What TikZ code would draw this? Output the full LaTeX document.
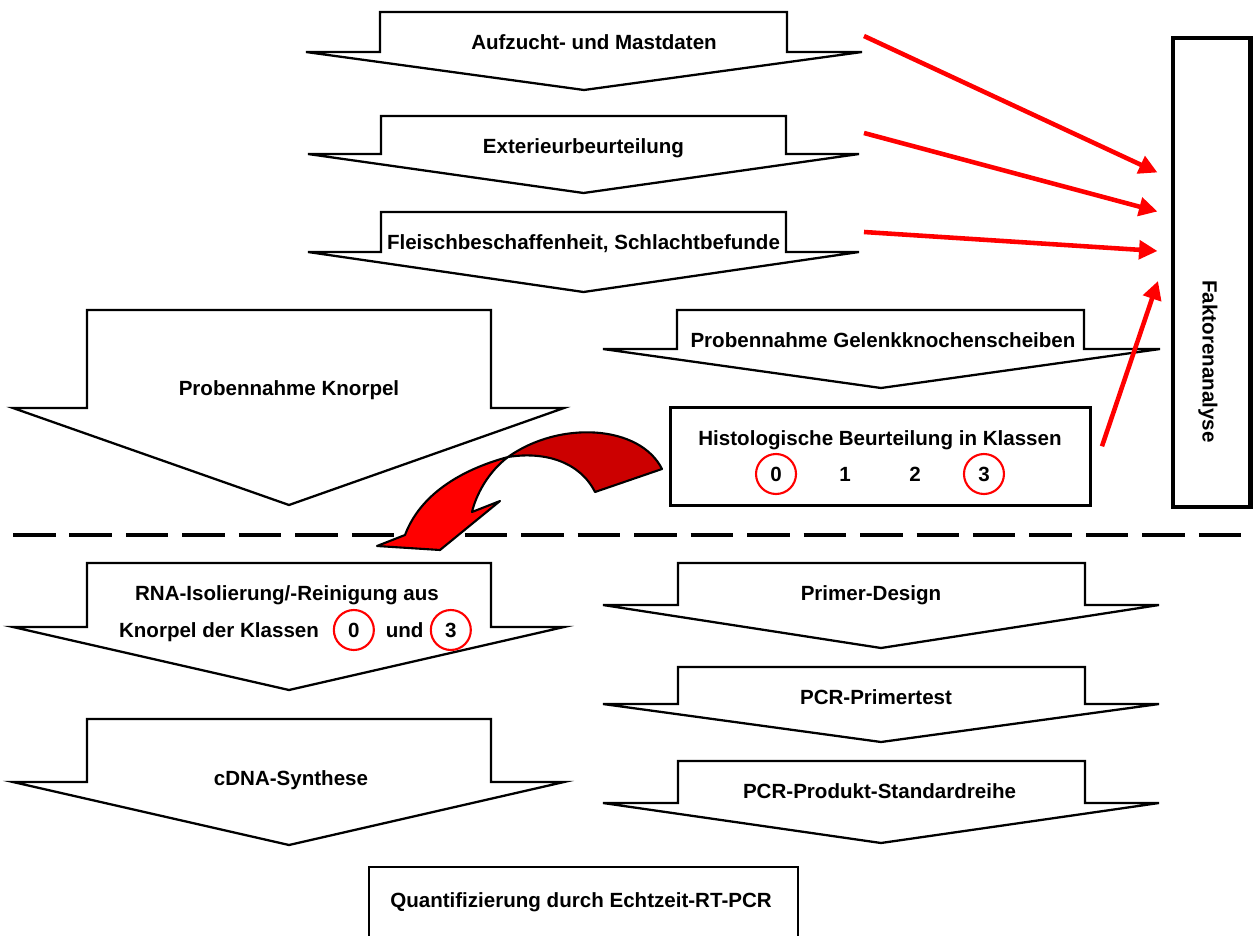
\documentclass[tikz,border=0pt]{standalone}
\usepackage{fontspec}
\setmainfont{Liberation Sans}
\usepackage{graphicx}
\usetikzlibrary{positioning, arrows.meta}
\definecolor{arrdark}{RGB}{204,0,0}
\tikzset{
	blk/.style={draw, line width=1.3pt, fill=white},
	lbl/.style={font=\bfseries\fontsize{11.7}{14}\selectfont, inner sep=0pt, text height=8.4pt, text depth=0pt},
	ring/.style={lbl, draw=red, line width=1.2pt, circle, minimum size=0.8cm},
	frame/.style={draw, line width=1.7pt},
	redarr/.style={red, line width=2.6pt, -{Triangle[length=10.5pt, width=10.5pt]}},
	curl/.style={draw=black, line width=1.2pt, line join=round},
}

\begin{document}
\begin{tikzpicture}[x=0.02cm, y=-0.02cm]
		\useasboundingbox (0,0) rectangle (1254,936);
		\clip (0,0) rectangle (1254,936);

		\draw[blk] (380,12) -- (787,12) -- (787,52) -- (862,52) -- (584,90) -- (306,52) -- (380,52) -- cycle;
		\draw[blk] (381,116) -- (786,116) -- (786,154) -- (859,154) -- (583.5,193) -- (308,154) -- (381,154) -- cycle;
		\draw[blk] (381,212) -- (786,212) -- (786,252) -- (859,252) -- (583.5,292) -- (308,252) -- (381,252) -- cycle;
		\draw[blk] (87,310) -- (491,310) -- (491,408) -- (564,408) -- (289,505) -- (13,408) -- (87,408) -- cycle;
		\draw[blk] (677,310) -- (1084,310) -- (1084,349) -- (1160,349) -- (881,388) -- (603,349) -- (677,349) -- cycle;
		\draw[blk] (87,563) -- (491,563) -- (491,627) -- (564,627) -- (289,690) -- (13,627) -- (87,627) -- cycle;
		\draw[blk] (87,719) -- (491,719) -- (491,782) -- (564,782) -- (289,845) -- (13,782) -- (87,782) -- cycle;
		\draw[blk] (678,563) -- (1085,563) -- (1085,605) -- (1159,605) -- (881,648) -- (603,605) -- (678,605) -- cycle;
		\draw[blk] (678,667) -- (1085,667) -- (1085,704) -- (1159,704) -- (881,742) -- (603,704) -- (678,704) -- cycle;
		\draw[blk] (678,761) -- (1085,761) -- (1085,803) -- (1159,803) -- (881,843) -- (603,803) -- (678,803) -- cycle;

		\node[frame, line width=2.3pt, minimum width=1.56cm, minimum height=9.38cm] (fa) at (1211.5,272.5) {};
		\node[frame, minimum width=8.4cm, minimum height=1.97cm] (histo) at (880.5,456.3) {};
		\node[frame, line width=1.5pt, minimum width=8.58cm, minimum height=2.26cm] (quant) at (583.5,923.5) {};

		\node[lbl] (aufzucht) at (594,42) {Aufzucht- und Mastdaten};
		\node[lbl] (exterieur) at (583.5,146) {Exterieurbeurteilung};
		\node[lbl] (fleisch) at (583.5,242) {Fleischbeschaffenheit, Schlachtbefunde};
		\node[lbl] (knorpel) at (289,388) {Probennahme Knorpel};
		\node[lbl] (gelenk) at (883,340) {Probennahme Gelenkknochenscheiben};
		\node[lbl] (histotxt) at (880,438) {Histologische Beurteilung in Klassen};
		\node[lbl] (h1) at (845,474) {1};
		\node[ring, left of=h1, node distance=1.38cm] (h0) {0};
		\node[lbl, right of=h1, node distance=1.4cm] (h2) {2};
		\node[ring, right of=h2, node distance=1.38cm] (h3) {3};
		\node[lbl] (fatxt) at (1208,273) {\rotatebox{-90}{Faktorenanalyse}};
		\node[lbl] (rna) at (287,593) {RNA-Isolierung/-Reinigung aus};
		\node[lbl] (klassen) at (219,630) {Knorpel der Klassen};
		\node[ring, right=0.27cm of klassen] (k0) {0};
		\node[lbl, right=0.21cm of k0] (und) {und};
		\node[ring, right=0.12cm of und] (k3) {3};
		\node[lbl] (cdna) at (291,778) {cDNA-Synthese};
		\node[lbl] (primer) at (871,593) {Primer-Design};
		\node[lbl] (pcrtest) at (876,697) {PCR-Primertest};
		\node[lbl] (pcrprod) at (879.5,791) {PCR-Produkt-Standardreihe};
		\node[lbl] (quanttxt) at (581,900) {Quantifizierung durch Echtzeit-RT-PCR};

		\coordinate (s1) at (864,36);
		\coordinate (s2) at (864,133);
		\coordinate (s3) at (864,232);
		\draw[redarr] (s1) -- ([shift={(-13,-100)}]fa.west);
		\draw[redarr] (s2) -- ([shift={(-13,-61)}]fa.west);
		\draw[redarr] (s3) -- ([shift={(-13,-21.5)}]fa.west);
		\draw[redarr] ([shift={(10,-10)}]histo.east) -- ([shift={(-12.5,8.5)}]fa.west);

		\draw[line width=2.8pt, dash pattern=on 24.2pt off 7.94pt] (13,535) -- (1247,535);

		\filldraw[curl, fill=arrdark] (662,469) .. controls (640,425) and (560,420) .. (508,457) .. controls (545,451) and (580,462) .. (595,492) -- cycle;
		\filldraw[curl, fill=red] (508,457) .. controls (460,470) and (420,495) .. (405,535) -- (377,546) -- (440,550) -- (500,501) -- (472,512) .. controls (476,495) and (488,472) .. (508,457) -- cycle;
	\end{tikzpicture}
\end{document}
